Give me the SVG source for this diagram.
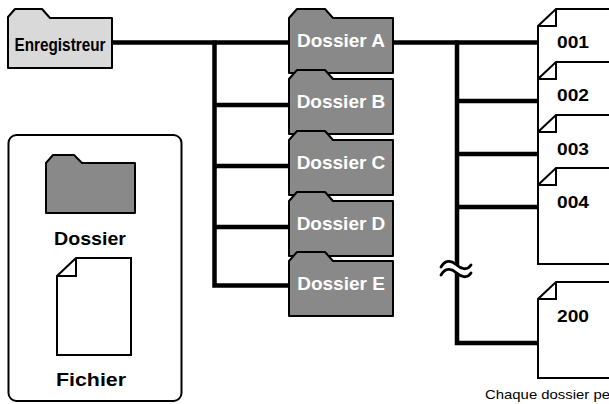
<svg xmlns="http://www.w3.org/2000/svg" width="609" height="404" viewBox="0 0 609 404">
<style>
.fold{fill:#898989;stroke:#000;stroke-width:2;stroke-linejoin:round}
.rec{fill:#d9d9d9;stroke:#000;stroke-width:2;stroke-linejoin:round}
.file{fill:#fff;stroke:#000;stroke-width:2;stroke-linejoin:miter}
.ear{fill:none;stroke:#000;stroke-width:2}
.wire{fill:none;stroke:#000;stroke-width:4.5;stroke-linecap:butt}
.wave{fill:none;stroke:#000;stroke-width:2.8;stroke-linecap:round}
.ft{font-family:"Liberation Sans",Arial,sans-serif;font-weight:bold;font-size:19px;fill:#fff;text-anchor:middle}
.bt{font-family:"Liberation Sans",Arial,sans-serif;font-weight:bold;fill:#000}
.cap{font-family:"Liberation Sans",Arial,sans-serif;font-size:13.5px;fill:#000}
</style>
<rect x="0" y="0" width="609" height="404" fill="#fff"/>
<g id="connectors">
<line class="wire" x1="112" y1="42.5" x2="539" y2="42.5"/>
<polyline class="wire" points="214.5,40.5 214.5,285.5 289,285.5"/>
<line class="wire" x1="214.5" y1="105" x2="289" y2="105"/>
<line class="wire" x1="214.5" y1="166" x2="289" y2="166"/>
<line class="wire" x1="214.5" y1="227" x2="289" y2="227"/>
<line class="wire" x1="457" y1="40.5" x2="457" y2="265"/>
<polyline class="wire" points="457,273 457,343 539,343"/>
<line class="wire" x1="457" y1="101" x2="539" y2="101"/>
<line class="wire" x1="457" y1="154" x2="539" y2="154"/>
<line class="wire" x1="457" y1="207" x2="539" y2="207"/>
<path class="wave" d="M441,267 C445,260 451,260 456,264.5 C461,269 467,271 471,265"/>
<path class="wave" d="M441,275 C445,268 451,268 456,272.5 C461,277 467,279 471,273"/>
</g>
<g id="enregistreur">
<path class="rec" d="M8,17 L15,9 L42,9 L50,18 L112,18 L112,68 L8,68 Z"/>
<text class="bt" x="60" y="50.5" font-size="18.5" text-anchor="middle" textLength="91" lengthAdjust="spacingAndGlyphs">Enregistreur</text>
</g>
<g id="dossier-a">
<path class="fold" d="M289,18 L297,9 L325,9 L333,18 L393,18 L393,73 L289,73 Z"/>
<text class="ft" x="341" y="47">Dossier A</text>
</g>
<g id="dossier-b">
<path class="fold" d="M289,79 L297,70 L325,70 L333,79 L393,79 L393,134 L289,134 Z"/>
<text class="ft" x="341" y="108">Dossier B</text>
</g>
<g id="dossier-c">
<path class="fold" d="M289,140 L297,131 L325,131 L333,140 L393,140 L393,195 L289,195 Z"/>
<text class="ft" x="341" y="169">Dossier C</text>
</g>
<g id="dossier-d">
<path class="fold" d="M289,201 L297,192 L325,192 L333,201 L393,201 L393,256 L289,256 Z"/>
<text class="ft" x="341" y="230">Dossier D</text>
</g>
<g id="dossier-e">
<path class="fold" d="M289,261 L297,252 L325,252 L333,261 L393,261 L393,316 L289,316 Z"/>
<text class="ft" x="341" y="290">Dossier E</text>
</g>
<g id="file-001">
<path class="file" d="M556,9 L640,9 L640,106 L538,106 L538,26 Z"/>
<polyline class="ear" points="556,9 556,26 538,26"/>
<text class="bt" x="557" y="47.5" font-size="17" textLength="32" lengthAdjust="spacingAndGlyphs">001</text>
</g>
<g id="file-002">
<path class="file" d="M556,62 L640,62 L640,159 L538,159 L538,79 Z"/>
<polyline class="ear" points="556,62 556,79 538,79"/>
<text class="bt" x="557" y="101" font-size="17" textLength="32" lengthAdjust="spacingAndGlyphs">002</text>
</g>
<g id="file-003">
<path class="file" d="M556,115 L640,115 L640,212 L538,212 L538,132 Z"/>
<polyline class="ear" points="556,115 556,132 538,132"/>
<text class="bt" x="557" y="154.5" font-size="17" textLength="32" lengthAdjust="spacingAndGlyphs">003</text>
</g>
<g id="file-004">
<path class="file" d="M556,168 L640,168 L640,264 L538,264 L538,185 Z"/>
<polyline class="ear" points="556,168 556,185 538,185"/>
<text class="bt" x="557" y="207.5" font-size="17" textLength="32" lengthAdjust="spacingAndGlyphs">004</text>
</g>
<g id="file-200">
<path class="file" d="M556,282 L640,282 L640,378 L538,378 L538,299 Z"/>
<polyline class="ear" points="556,282 556,299 538,299"/>
<text class="bt" x="557" y="321.5" font-size="17" textLength="32" lengthAdjust="spacingAndGlyphs">200</text>
</g>
<g id="legend">
<rect x="8.5" y="135" width="173" height="266" rx="8" ry="8" fill="#fff" stroke="#000" stroke-width="2"/>
<path class="fold" d="M46,163 L53,155 L74,155 L82,163 L135,163 L135,213 L46,213 Z"/>
<text class="bt" x="90" y="245" font-size="19" text-anchor="middle" textLength="72" lengthAdjust="spacingAndGlyphs">Dossier</text>
<path class="file" d="M76,258 L131,258 L131,355 L57,355 L57,276 Z"/>
<polyline class="ear" points="76,258 76,276 57,276"/>
<text class="bt" x="91" y="386" font-size="19" text-anchor="middle" textLength="70" lengthAdjust="spacingAndGlyphs">Fichier</text>
</g>
<text id="caption" class="cap" x="485" y="399" textLength="125" lengthAdjust="spacingAndGlyphs">Chaque dossier pe</text>
</svg>
